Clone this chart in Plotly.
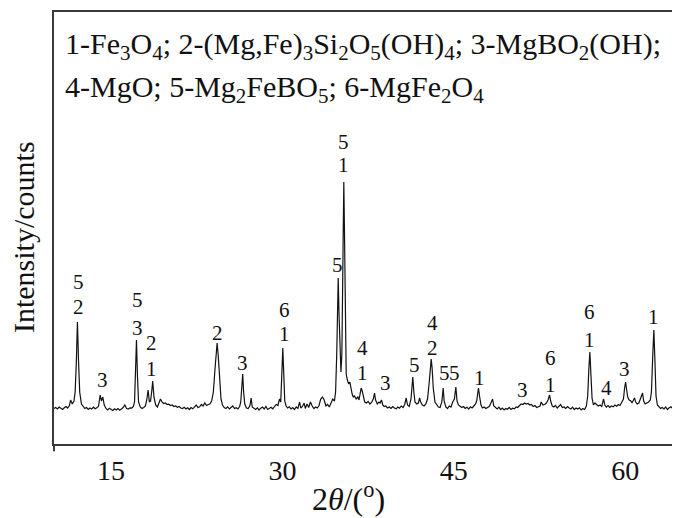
import plotly.graph_objects as go

# ---- data (2theta in degrees, intensity in arbitrary counts) ----
two_theta = [
    10.0, 10.15, 10.3, 10.45, 10.6, 10.75, 10.9, 11.05, 11.2, 11.35,
    11.45, 11.6, 11.75, 11.85, 11.95, 12.05, 12.15, 12.25, 12.4, 12.55,
    12.7, 12.85, 13.0, 13.15, 13.3, 13.45, 13.6, 13.75, 13.9, 14.04,
    14.15, 14.27, 14.4, 14.55, 14.7, 14.85, 15.0, 15.15, 15.3, 15.45,
    15.6, 15.75, 15.9, 16.05, 16.2, 16.35, 16.5, 16.65, 16.8, 16.95,
    17.05, 17.15, 17.22, 17.3, 17.4, 17.55, 17.7, 17.85, 18.0, 18.12,
    18.24, 18.35, 18.45, 18.55, 18.64, 18.75, 18.9, 19.05, 19.2, 19.32,
    19.45, 19.6, 19.75, 19.9, 20.05, 20.2, 20.35, 20.5, 20.65, 20.8,
    20.95, 21.1, 21.25, 21.4, 21.55, 21.7, 21.85, 22.0, 22.15, 22.3,
    22.45, 22.6, 22.75, 22.9, 23.05, 23.2, 23.35, 23.5, 23.65, 23.8,
    23.95, 24.1, 24.2, 24.28, 24.38, 24.5, 24.62, 24.75, 24.9, 25.05,
    25.2, 25.35, 25.5, 25.65, 25.8, 25.95, 26.1, 26.25, 26.35, 26.45,
    26.52, 26.6, 26.7, 26.85, 27.0, 27.15, 27.26, 27.35, 27.5, 27.65,
    27.8, 27.95, 28.1, 28.25, 28.4, 28.55, 28.7, 28.85, 29.0, 29.15,
    29.3, 29.45, 29.6, 29.74, 29.85, 29.95, 30.03, 30.1, 30.2, 30.32,
    30.45, 30.6, 30.75, 30.9, 31.05, 31.2, 31.35, 31.5, 31.6, 31.75,
    31.9, 32.0, 32.15, 32.3, 32.45, 32.6, 32.75, 32.9, 33.05, 33.2,
    33.35, 33.5, 33.65, 33.8, 33.95, 34.1, 34.25, 34.4, 34.55, 34.65,
    34.75, 34.82, 34.88, 34.95, 35.05, 35.12, 35.2, 35.27, 35.33, 35.37,
    35.42, 35.5, 35.58, 35.68, 35.8, 35.9, 36.0, 36.1, 36.2, 36.3,
    36.45, 36.6, 36.7, 36.8, 36.89, 36.98, 37.1, 37.2, 37.35, 37.5,
    37.65, 37.8, 37.95, 38.06, 38.15, 38.3, 38.45, 38.55, 38.67, 38.78,
    38.9, 39.05, 39.2, 39.35, 39.5, 39.65, 39.8, 39.95, 40.1, 40.25,
    40.4, 40.55, 40.7, 40.83, 40.95, 41.1, 41.25, 41.35, 41.41, 41.5,
    41.6, 41.75, 41.9, 42.0, 42.1, 42.25, 42.4, 42.55, 42.7, 42.85,
    42.95, 43.02, 43.1, 43.2, 43.35, 43.5, 43.65, 43.8, 43.95, 44.07,
    44.15, 44.3, 44.45, 44.6, 44.75, 44.9, 45.05, 45.18, 45.28, 45.4,
    45.55, 45.7, 45.85, 46.0, 46.15, 46.3, 46.45, 46.6, 46.75, 46.9,
    47.0, 47.08, 47.16, 47.25, 47.38, 47.5, 47.65, 47.8, 47.95, 48.1,
    48.25, 48.39, 48.5, 48.65, 48.8, 48.95, 49.1, 49.25, 49.4, 49.55,
    49.7, 49.85, 50.0, 50.15, 50.3, 50.45, 50.6, 50.75, 50.9, 51.05,
    51.2, 51.35, 51.5, 51.65, 51.8, 51.95, 52.1, 52.25, 52.4, 52.55,
    52.65, 52.8, 52.95, 53.1, 53.25, 53.38, 53.5, 53.62, 53.75, 53.9,
    54.05, 54.2, 54.35, 54.5, 54.65, 54.8, 54.95, 55.1, 55.25, 55.4,
    55.55, 55.7, 55.85, 56.0, 56.15, 56.3, 56.45, 56.6, 56.72, 56.82,
    56.91, 57.0, 57.1, 57.22, 57.35, 57.5, 57.65, 57.8, 57.95, 58.11,
    58.22, 58.35, 58.5, 58.65, 58.8, 58.95, 59.1, 59.25, 59.4, 59.55,
    59.7, 59.85, 59.95, 60.04, 60.12, 60.22, 60.35, 60.5, 60.6, 60.72,
    60.82, 60.92, 61.05, 61.2, 61.35, 61.52, 61.62, 61.75, 61.9, 62.05,
    62.2, 62.3, 62.42, 62.51, 62.6, 62.7, 62.82, 62.95, 63.1, 63.25,
    63.4, 63.55, 63.7, 63.85, 64.0, 64.15, 64.3, 64.45, 64.6, 64.75,
    64.9,
]
intensity = [
    355, 365, 350, 370, 358, 345, 362, 375, 360, 385,
    440, 400, 430, 520, 800, 1220, 820, 520, 400, 375,
    355, 365, 345, 360, 350, 368, 352, 362, 380, 490,
    430, 470, 390, 355, 340, 358, 345, 335, 352, 340,
    355, 338, 350, 365, 390, 355, 350, 362, 360, 375,
    420, 800, 1040, 700, 420, 370, 355, 365, 380, 440,
    540, 420, 430, 520, 630, 470, 390, 370, 420, 450,
    420, 405, 410, 395, 398, 385, 390, 375, 380, 368,
    375, 360, 355, 368, 350, 362, 345, 365, 352, 370,
    390, 365, 372, 395, 380, 410, 385, 395, 400, 430,
    520, 760, 950, 1010, 880, 620, 450, 390, 365, 355,
    372, 350, 365, 380, 355, 362, 350, 375, 420, 560,
    700, 520, 400, 360, 355, 385, 460, 370, 355, 345,
    362, 340, 358, 370, 350, 375, 345, 360, 368, 352,
    380, 395, 385, 450, 420, 700, 960, 740, 430, 380,
    360, 372, 350, 365, 345, 370, 355, 420, 360, 375,
    410, 355, 400, 365, 420, 380, 355, 370, 360, 385,
    450, 470, 440, 380, 395, 370, 420, 450, 430, 520,
    900, 1400, 1660, 1300, 800, 720, 900, 1600, 2300, 2620,
    2200, 1100, 700, 640, 600, 620, 540, 500, 470, 480,
    450, 470, 440, 500, 560, 530, 450, 420, 410, 425,
    400, 415, 450, 510, 440, 400, 420, 410, 440, 390,
    375, 380, 360, 370, 355, 375, 360, 352, 370, 358,
    380, 365, 395, 460, 390, 375, 450, 600, 670, 520,
    420, 400, 410, 460, 420, 390, 380, 400, 450, 620,
    800, 850, 760, 560, 420, 390, 370, 365, 420, 560,
    430, 370, 355, 380, 370, 420, 450, 570, 430, 390,
    380, 365, 375, 355, 368, 350, 372, 360, 380, 400,
    430, 510, 560, 480, 390, 360, 370, 355, 365, 375,
    410, 450, 380, 360, 350, 368, 345, 360, 340, 355,
    348, 365, 345, 358, 352, 370, 365, 385, 400, 395,
    410, 400, 405, 390, 395, 375, 385, 365, 375, 380,
    420, 390, 395, 410, 440, 490, 420, 380, 370, 385,
    360, 375, 395, 365, 370, 355, 375, 360, 350, 368,
    345, 360, 350, 362, 340, 355, 345, 380, 480, 750,
    920, 700, 460, 390, 410, 395, 380, 390, 375, 450,
    390, 370, 385, 365, 380, 372, 390, 378, 395, 385,
    420, 450, 560, 620, 550, 470, 440, 430, 410, 440,
    460, 420, 400, 410, 450, 510, 430, 400, 410, 420,
    440, 520, 900, 1140, 850, 480, 390, 370, 355, 365,
    350, 370, 345, 362, 372, 355, 365, 350, 368, 358,
    362,
]
assert len(two_theta) == len(intensity)

# phase labels over the peaks (text, 2theta, intensity level of label centre)
label_text = ["5", "2", "3", "5", "3", "2", "1", "2", "3", "6", "1",
              "5", "5", "1", "4", "1", "3", "5", "4", "2", "5", "5",
              "1", "3", "6", "1", "6", "1", "4", "3", "1"]
label_x = [12.14, 12.14, 14.24, 17.30, 17.30, 18.57, 18.57, 24.31, 26.50, 30.22, 30.22,
           34.79, 35.34, 35.34, 37.00, 37.00, 39.02, 41.56, 43.13, 43.13, 44.19, 45.06,
           47.25, 51.00, 53.47, 53.47, 56.88, 56.88, 58.37, 59.95, 62.49]
label_y = [1620, 1370, 640, 1440, 1160, 1010, 750, 1110, 810, 1340, 1100,
           1790, 3020, 2790, 960, 710, 610, 790, 1210, 960, 710, 710,
           660, 540, 860, 590, 1320, 1040, 560, 750, 1270]

x_ticks = [15, 30, 45, 60]
legend_lines = [
    "1-Fe<sub>3</sub>O<sub>4</sub>; 2-(Mg,Fe)<sub>3</sub>Si<sub>2</sub>O<sub>5</sub>(OH)<sub>4</sub>; 3-MgBO<sub>2</sub>(OH);",
    "4-MgO; 5-Mg<sub>2</sub>FeBO<sub>5</sub>; 6-MgFe<sub>2</sub>O<sub>4</sub>",
]

FONT = "Liberation Serif, Times New Roman, serif"
AXIS_COLOR = "#3a3a3a"

fig = go.Figure()
fig.add_trace(go.Scatter(x=two_theta, y=intensity, mode="lines",
                         line=dict(color="#111111", width=1.2), showlegend=False,
                         hoverinfo="skip"))

for t, x, y in zip(label_text, label_x, label_y):
    fig.add_annotation(x=x, y=y, text=t, showarrow=False, xanchor="center", yanchor="middle",
                       font=dict(family=FONT, size=21, color="#111111"))

# legend header inside the frame
for i, line in enumerate(legend_lines):
    fig.add_annotation(xref="paper", yref="paper", x=0.0144, y=[0.921, 0.822][i],
                       text=line, showarrow=False, xanchor="left", yanchor="middle",
                       font=dict(family=FONT, size=30, color="#111111"))

# axis titles
fig.add_annotation(xref="paper", yref="paper", x=-0.0495, y=0.479, text="Intensity/counts",
                   textangle=-90, showarrow=False, xanchor="center", yanchor="middle",
                   font=dict(family=FONT, size=30, color="#111111"))
fig.add_annotation(xref="paper", yref="paper", x=0.471, y=-0.123,
                   text="2<i>θ</i>/(<sup>o</sup>)", showarrow=False,
                   xanchor="center", yanchor="middle",
                   font=dict(family=FONT, size=32, color="#111111"))

# small overhang of the left axis below the bottom axis
fig.add_shape(type="line", xref="paper", yref="paper", x0=0, x1=0, y0=-0.017, y1=0,
              line=dict(color=AXIS_COLOR, width=2))

# the page places the figure 8 px from its top-left corner
fig.update_layout(
    width=672, height=510,
    margin=dict(l=46, r=0, t=4, b=74, pad=0),
    paper_bgcolor="white", plot_bgcolor="white",
    font=dict(family=FONT, color="#111111"),
    xaxis=dict(range=[10, 64.8], tickvals=x_ticks, ticks="", showgrid=False, zeroline=False,
               showline=True, mirror=True, linecolor=AXIS_COLOR, linewidth=2,
               tickfont=dict(family=FONT, size=28, color="#111111"), ticklabelstandoff=0),
    yaxis=dict(range=[0, 4320], showticklabels=False, ticks="", showgrid=False, zeroline=False,
               showline=True, mirror=False, linecolor=AXIS_COLOR, linewidth=2),
)

fig.write_html("out.html")
